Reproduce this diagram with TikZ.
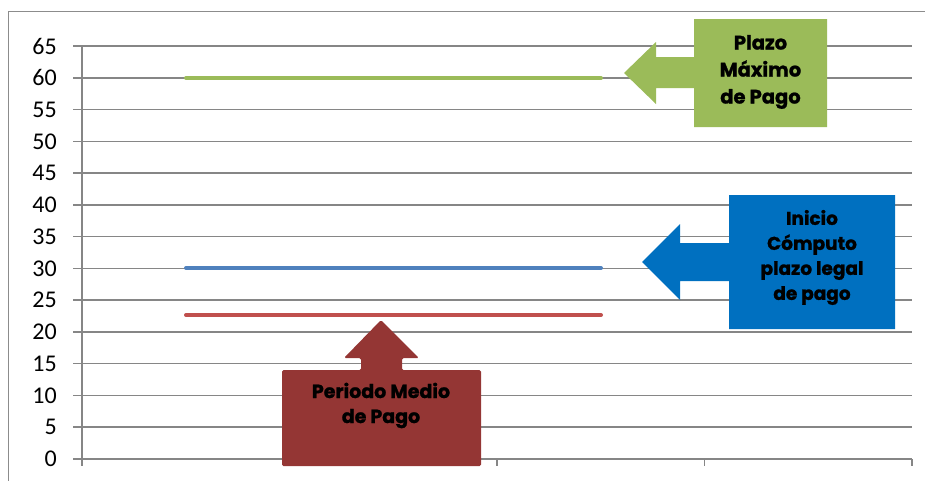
\documentclass[tikz,border=0pt]{standalone}
\usepackage{fontspec}
\setmainfont{Carlito}
\newfontfamily\callfont[BoldFeatures={FakeBold=1.2}]{Poppins}
\definecolor{gridgray}{HTML}{868686}
\definecolor{framegray}{HTML}{8C8C8C}
\definecolor{lgreen}{HTML}{9BBB59}
\definecolor{lblue}{HTML}{4F81BD}
\definecolor{lred}{HTML}{C0504D}
\definecolor{cgreen}{HTML}{9BBB59}
\definecolor{cblue}{HTML}{0070C0}
\definecolor{cred}{HTML}{943634}
\begin{document}
\begin{tikzpicture}[x=1pt,y=-1pt,
  grid/.style={draw=gridgray,line width=1.5pt},
  series/.style={line width=4pt,line cap=round},
  ylab/.style={anchor=east,font=\fontsize{24}{24}\selectfont,inner sep=0pt},
  callout/.style={draw=none,line join=round},
  calltext/.style={align=center,inner sep=0pt,text=black}]
\useasboundingbox (0,0) rectangle (925,480);
% outer frame
\draw[framegray,line width=1pt] (8,482) -- (8,11) -- (927,11);
% gridlines and labels
\foreach \v in {0,5,...,65}{
  \pgfmathsetmacro{\yy}{459-\v*6.3538}
  \draw[grid] (73,\yy) -- (912,\yy);
  \node[ylab] (lab\v) at (57,\yy) {\v};
}
% axes
\draw[grid] (82,459) -- (82,46);
\draw[grid] (82,459) -- (82,466);
\foreach \x in {289.5,497,704.5,912}{\draw[grid] (\x,459) -- (\x,466);}
% series
\coordinate (g1) at (186,78);  \coordinate (g2) at (601,78);
\coordinate (b1) at (186,268); \coordinate (b2) at (601,268);
\coordinate (r1) at (186,315); \coordinate (r2) at (601,315);
\draw[series,lgreen] (g1) -- (g2);
\draw[series,lblue] (b1) -- (b2);
\draw[series,lred] (r1) -- (r2);
% green callout
\fill[cgreen,callout] (694,19) -- (827,19) -- (827,127) -- (694,127) -- (694,88) -- (656,88) -- (656,104) -- (624,73) -- (656,42) -- (656,57) -- (694,57) -- cycle;
\node[calltext,font=\callfont\bfseries\fontsize{19.5}{27}\selectfont] (tgreen) at (760.5,72) {Plazo\\Máximo\\de Pago};
% blue callout
\fill[cblue,callout] (729,195) -- (895,195) -- (895,329) -- (729,329) -- (729,281) -- (680,281) -- (680,300) -- (642,262) -- (680,224) -- (680,243) -- (729,243) -- cycle;
\node[calltext,font=\callfont\bfseries\fontsize{18.5}{25}\selectfont] (tblue) at (812,257.5) {Inicio\\Cómputo\\plazo legal\\de pago};
% red callout
\fill[cred,callout,rounded corners=1.5pt] (282,370) -- (361,370) -- (361,358) -- (344,358) -- (381,320) -- (419,358) -- (402,358) -- (402,370) -- (481,370) -- (481,466) -- (282,466) -- cycle;
\node[calltext,font=\callfont\bfseries\fontsize{19}{25}\selectfont] (tred) at (381,405.5) {Periodo Medio\\de Pago};
\end{tikzpicture}
\end{document}
